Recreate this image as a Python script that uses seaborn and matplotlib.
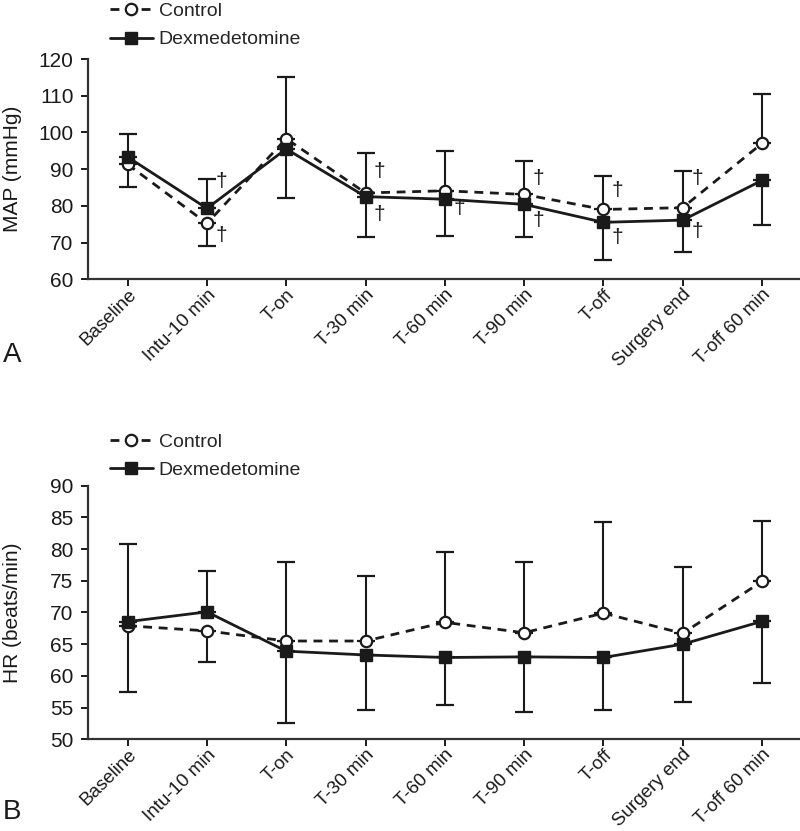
import numpy as np
import pandas as pd
import matplotlib.pyplot as plt
import seaborn as sns

# Time points shared by both panels
timepoints = ['Baseline', 'Intu-10 min', 'T-on', 'T-30 min', 'T-60 min',
              'T-90 min', 'T-off', 'Surgery end', 'T-off 60 min']

# Panel A: mean arterial pressure (mean, SD)
map_control = [91.3, 75.2, 98.3, 83.5, 84.1, 83.1, 79.0, 79.5, 97.0]
map_control_sd = [6.3, 6.1, 16.9, 10.8, 10.8, 9.1, 9.2, 10.0, 13.5]
map_dex = [93.3, 79.3, 95.5, 82.5, 81.8, 80.4, 75.5, 76.1, 86.9]
map_dex_sd = [6.2, 8.0, 13.5, 11.0, 10.0, 8.8, 10.2, 8.8, 12.1]
# significance marks (y position, None = no mark)
map_dagger_upper = [None, 86.5, None, 89.3, None, 87.5, 84.3, 87.5, None]
map_dagger_lower = [None, 72.0, None, 77.5, 79.3, 76.1, 71.3, 73.1, None]

# Panel B: heart rate (mean, SD)
hr_control = [67.9, 67.1, 65.5, 65.5, 68.45, 66.8, 69.9, 66.7, 74.9]
hr_control_sd = [10.5, 4.9, 12.4, 10.3, 11.05, 11.1, 14.3, 10.5, 9.6]
hr_dex = [68.55, 70.1, 63.9, 63.3, 62.9, 63.0, 62.9, 65.0, 68.6]
hr_dex_sd = [12.25, 6.4, 11.4, 8.7, 7.5, 8.7, 8.3, 9.1, 9.7]

sns.set_theme(style='ticks')
plt.rcParams['font.family'] = ['Liberation Sans', 'DejaVu Sans']
plt.rcParams['lines.dashed_pattern'] = [3.2, 2.4]

INK = '#1a1a1a'
FS = 15


def draw_panel(ax, control, control_sd, dex, dex_sd, ylim, yticks, ylabel,
               dagger_upper=None, dagger_lower=None):
    pos = np.arange(len(timepoints))
    control = np.array(control)
    dex = np.array(dex)
    control_sd = np.array(control_sd)
    dex_sd = np.array(dex_sd)

    # one-sided error bars: the higher group points up, the lower one down
    c_up = np.where(control >= dex, control_sd, 0)
    c_lo = np.where(control >= dex, 0, control_sd)
    d_up = np.where(dex > control, dex_sd, 0)
    d_lo = np.where(dex > control, 0, dex_sd)
    ax.errorbar(pos, control, yerr=[c_lo, c_up], fmt='none', ecolor=INK,
                elinewidth=1.5, capsize=6.5, capthick=1.6, zorder=1)
    ax.errorbar(pos, dex, yerr=[d_lo, d_up], fmt='none', ecolor=INK,
                elinewidth=1.5, capsize=6.5, capthick=1.6, zorder=1)

    df_c = pd.DataFrame({'pos': pos, 'value': control})
    df_d = pd.DataFrame({'pos': pos, 'value': dex})
    sns.lineplot(data=df_c, x='pos', y='value', ax=ax, color=INK,
                 linestyle='--', linewidth=2.0, marker='o', markersize=8.2,
                 markerfacecolor='white', markeredgecolor=INK,
                 markeredgewidth=1.6, label='Control', zorder=3)
    sns.lineplot(data=df_d, x='pos', y='value', ax=ax, color=INK,
                 linewidth=2.0, marker='s', markersize=8.2,
                 markerfacecolor=INK, markeredgecolor=INK,
                 markeredgewidth=1.0, label='Dexmedetomine', zorder=4)

    for marks in (dagger_upper, dagger_lower):
        if marks is None:
            continue
        for i, y in enumerate(marks):
            if y is not None:
                ax.text(i + 0.18, y, '\u2020', fontsize=FS, color=INK,
                        ha='center', va='center')

    ax.set_xlim(-0.5, 8.48)
    ax.set_ylim(*ylim)
    ax.set_yticks(yticks)
    ax.set_xticks(pos)
    ax.set_xticklabels(timepoints, rotation=45, ha='right',
                       rotation_mode='anchor', fontsize=13.5, color=INK)
    ax.tick_params(axis='y', labelsize=FS, labelcolor=INK, pad=5.5)
    ax.tick_params(axis='x', pad=0)
    ax.tick_params(length=5, width=1.4, color=INK)
    ax.set_xlabel('')
    ax.set_ylabel(ylabel, fontsize=FS, color=INK)
    ax.yaxis.set_label_coords(-0.093, 0.5)
    sns.despine(ax=ax)
    for s in ('left', 'bottom'):
        ax.spines[s].set_linewidth(1.6)
        ax.spines[s].set_color('#333333')


fig = plt.figure(figsize=(8.0, 8.31), dpi=100)
ax_a = fig.add_axes([0.11, 0.664, 0.89, 0.265])
ax_b = fig.add_axes([0.11, 0.1104, 0.89, 0.3051])

draw_panel(ax_a, map_control, map_control_sd, map_dex, map_dex_sd,
           (60, 120), np.arange(60, 121, 10), 'MAP (mmHg)',
           map_dagger_upper, map_dagger_lower)
draw_panel(ax_b, hr_control, hr_control_sd, hr_dex, hr_dex_sd,
           (50, 90), np.arange(50, 91, 5), 'HR (beats/min)')

for ax, top in ((ax_a, 0.997), (ax_b, 0.479)):
    ax.legend(loc='upper left', bbox_to_anchor=(0.1375, top),
              bbox_transform=fig.transFigure, frameon=False, fontsize=14,
              handlelength=2.2, handletextpad=0.3, labelspacing=0.55,
              borderpad=0, borderaxespad=0)

fig.text(0.004, 0.573, 'A', fontsize=20, color=INK, va='center')
fig.text(0.004, 0.023, 'B', fontsize=20, color=INK, va='center')

plt.savefig('out.png', dpi=100)
